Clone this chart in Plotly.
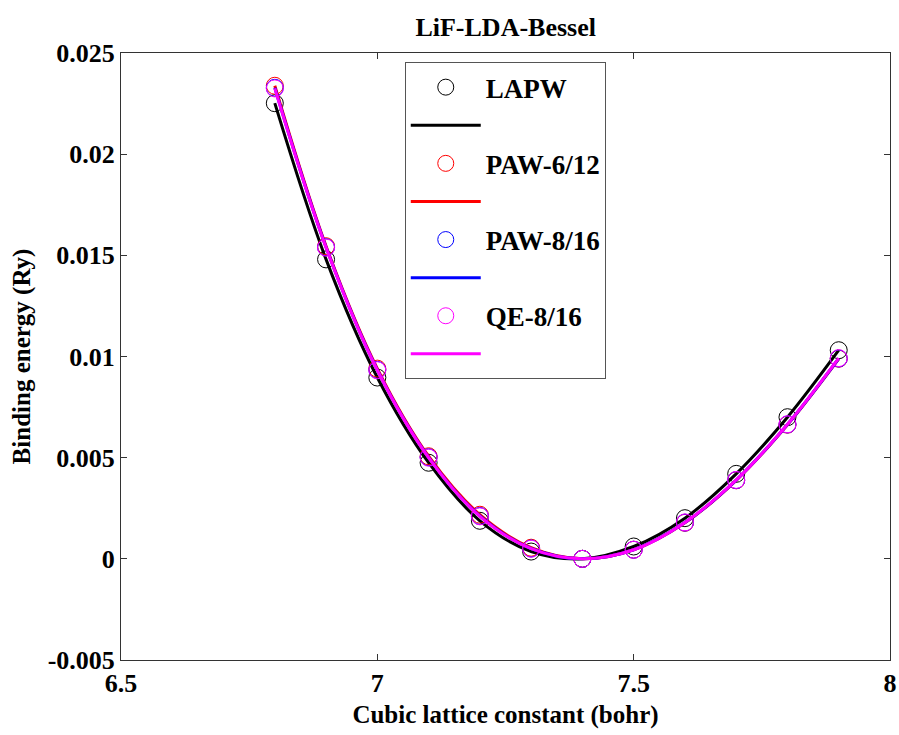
import plotly.graph_objects as go

lattice = [6.8, 6.9, 7.0, 7.1, 7.2, 7.3, 7.4, 7.5, 7.6, 7.7, 7.8, 7.9]
lapw = [0.02252, 0.01480, 0.00896, 0.00475, 0.00188, 0.00036, 0.00000, 0.00061, 0.00201, 0.00420, 0.00700, 0.01031]
paw_6_12 = [0.02338, 0.01545, 0.00940, 0.00507, 0.00218, 0.00055, 0.00000, 0.00045, 0.00178, 0.00388, 0.00663, 0.00989]
paw_8_16 = [0.02328, 0.01540, 0.00934, 0.00502, 0.00212, 0.00051, 0.00000, 0.00045, 0.00179, 0.00389, 0.00664, 0.00990]
qe_8_16 = [0.02325, 0.01538, 0.00932, 0.00500, 0.00210, 0.00050, 0.00000, 0.00045, 0.00180, 0.00390, 0.00665, 0.00992]

series = [
    ("LAPW", lapw, "#000000"),
    ("PAW-6/12", paw_6_12, "#ff0000"),
    ("PAW-8/16", paw_8_16, "#0000ff"),
    ("QE-8/16", qe_8_16, "#ff00ff"),
]

x_ticks = [6.5, 7, 7.5, 8]
x_ticktext = ["6.5", "7", "7.5", "8"]
y_ticks = [-0.005, 0, 0.005, 0.01, 0.015, 0.02, 0.025]
y_ticktext = ["-0.005", "0", "0.005", "0.01", "0.015", "0.02", "0.025"]

FONT = "Liberation Serif"

fig = go.Figure()
for i, (name, vals, color) in enumerate(series):
    fig.add_trace(go.Scatter(
        x=lattice, y=vals, mode="markers", name=name,
        legendgroup=f"m{i}",
        marker=dict(symbol="circle-open", size=17, color=color, line=dict(width=1, color=color)),
    ))
    fig.add_trace(go.Scatter(
        x=lattice, y=vals, mode="lines", name=" ",
        legendgroup=f"l{i}",
        line=dict(color=color, width=3, shape="spline", smoothing=1),
    ))

fig.update_layout(
    width=899, height=735,
    margin=dict(l=121, r=9, t=53, b=75, autoexpand=False),
    paper_bgcolor="white", plot_bgcolor="white",
    font=dict(family=FONT, size=20, color="black"),
    title=dict(text="<b>LiF-LDA-Bessel</b>", x=0.5625, xanchor="center", y=0.964, yanchor="middle",
               font=dict(family=FONT, size=26, color="black")),
    showlegend=True,
    legend=dict(
        x=0.369, y=0.985, xanchor="left", yanchor="top",
        bgcolor="white", bordercolor="#555555", borderwidth=1,
        font=dict(family=FONT, size=27, color="black", weight="bold"),
        tracegroupgap=0, itemwidth=70,
    ),
)
fig.update_xaxes(
    range=[6.5, 8], tickvals=x_ticks, ticktext=x_ticktext,
    showline=True, linecolor="#333333", linewidth=1, mirror="ticks",
    ticks="inside", ticklen=6, tickcolor="#333333",
    showgrid=False, zeroline=False, automargin=False,
    tickfont=dict(family=FONT, size=26, color="black", weight="bold"),
    title=dict(text="<b>Cubic lattice constant (bohr)</b>", font=dict(family=FONT, size=25, color="black"), standoff=8),
)
fig.update_yaxes(
    range=[-0.005, 0.025], tickvals=y_ticks, ticktext=y_ticktext,
    showline=True, linecolor="#333333", linewidth=1, mirror="ticks",
    ticks="inside", ticklen=6, tickcolor="#333333",
    showgrid=False, zeroline=False, automargin=False,
    tickfont=dict(family=FONT, size=26, color="black", weight="bold"),
    title=dict(text="<b>Binding energy (Ry)</b>", font=dict(family=FONT, size=25, color="black"), standoff=9),
)

fig.write_html("out.html")
